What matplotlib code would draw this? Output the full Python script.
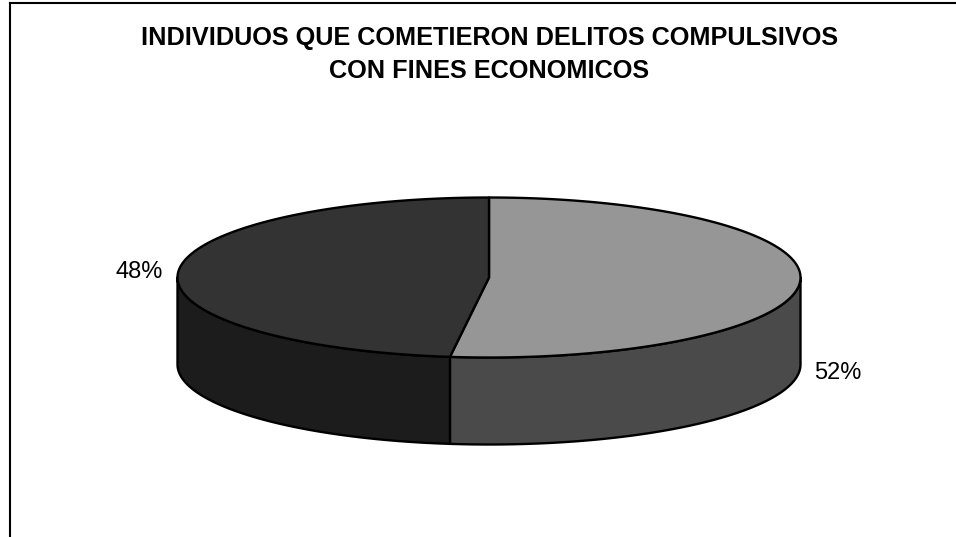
import numpy as np
import matplotlib
matplotlib.use("Agg")
import matplotlib.pyplot as plt
from matplotlib.patches import Polygon
from matplotlib.lines import Line2D

# ---- data ----
categories = ["Sí", "No"]
values = [52, 48]
labels = ["52%", "48%"]
title_lines = ["INDIVIDUOS QUE COMETIERON DELITOS COMPULSIVOS",
               "CON FINES ECONOMICOS"]

# ---- style / layout ----
top_colors = ["#969696", "#333333"]
side_colors = ["#4a4a4a", "#1c1c1c"]
W, H = 956, 537
cx, cy = 489, 277.5       # centre of top ellipse (pixels)
a, b = 311.5, 80.0        # semi-axes
depth = 87.0
start_angle = 90.0

plt.rcParams["font.family"] = ["Liberation Sans", "DejaVu Sans"]
fig = plt.figure(figsize=(W / 100, H / 100), dpi=100)
ax = fig.add_axes([0, 0, 1, 1])
ax.set_xlim(0, W)
ax.set_ylim(H, 0)
ax.axis("off")

def pt(theta_deg, dz=0.0):
    t = np.radians(theta_deg)
    return cx + a * np.cos(t), cy - b * np.sin(t) + dz

total = float(sum(values))
angles = [start_angle]
for v in values:
    angles.append(angles[-1] - 360.0 * v / total)

# sides (front half only: sin(theta) < 0)
for i in range(len(values)):
    t_hi, t_lo = angles[i], angles[i + 1]   # clockwise: t_hi > t_lo
    segs = []
    for shift in (0, -360, 360):
        lo = max(t_lo, -180 + shift)
        hi = min(t_hi, 0 + shift)
        if hi > lo:
            segs.append((lo, hi))
    for lo, hi in segs:
        th = np.linspace(lo, hi, 200)
        top = [pt(t) for t in th]
        bot = [pt(t, depth) for t in th[::-1]]
        ax.add_patch(Polygon(top + bot, closed=True, facecolor=side_colors[i],
                             edgecolor="black", linewidth=1.7, joinstyle="round"))

# top faces
for i in range(len(values)):
    th = np.linspace(angles[i], angles[i + 1], 300)
    verts = [(cx, cy)] + [pt(t) for t in th]
    ax.add_patch(Polygon(verts, closed=True, facecolor=top_colors[i],
                         edgecolor="black", linewidth=1.7, joinstyle="round"))

# labels
for i, lab in enumerate(labels):
    mid = (angles[i] + angles[i + 1]) / 2.0
    x, y = pt(mid)
    if np.sin(np.radians(mid)) < 0:
        y += depth + 3
    dx = 38 if np.cos(np.radians(mid)) > 0 else -39
    ax.text(x + dx, y, lab, ha="center", va="center", fontsize=17,
            color="black")

# title
ax.text(489.5, 45, title_lines[0], ha="center", va="baseline",
        fontsize=18.2, fontweight="bold")
ax.text(489.5, 78, title_lines[1], ha="center", va="baseline",
        fontsize=18.2, fontweight="bold")

# chart-area frame (clipped by figure edges)
fig.add_artist(Line2D([10 / W, 1.0], [1 - 3 / H, 1 - 3 / H],
                      transform=fig.transFigure, color="black", linewidth=1.5))
fig.add_artist(Line2D([10 / W, 10 / W], [1 - 3 / H, 0.0],
                      transform=fig.transFigure, color="black", linewidth=1.5))

fig.savefig("out.png", dpi=100)
